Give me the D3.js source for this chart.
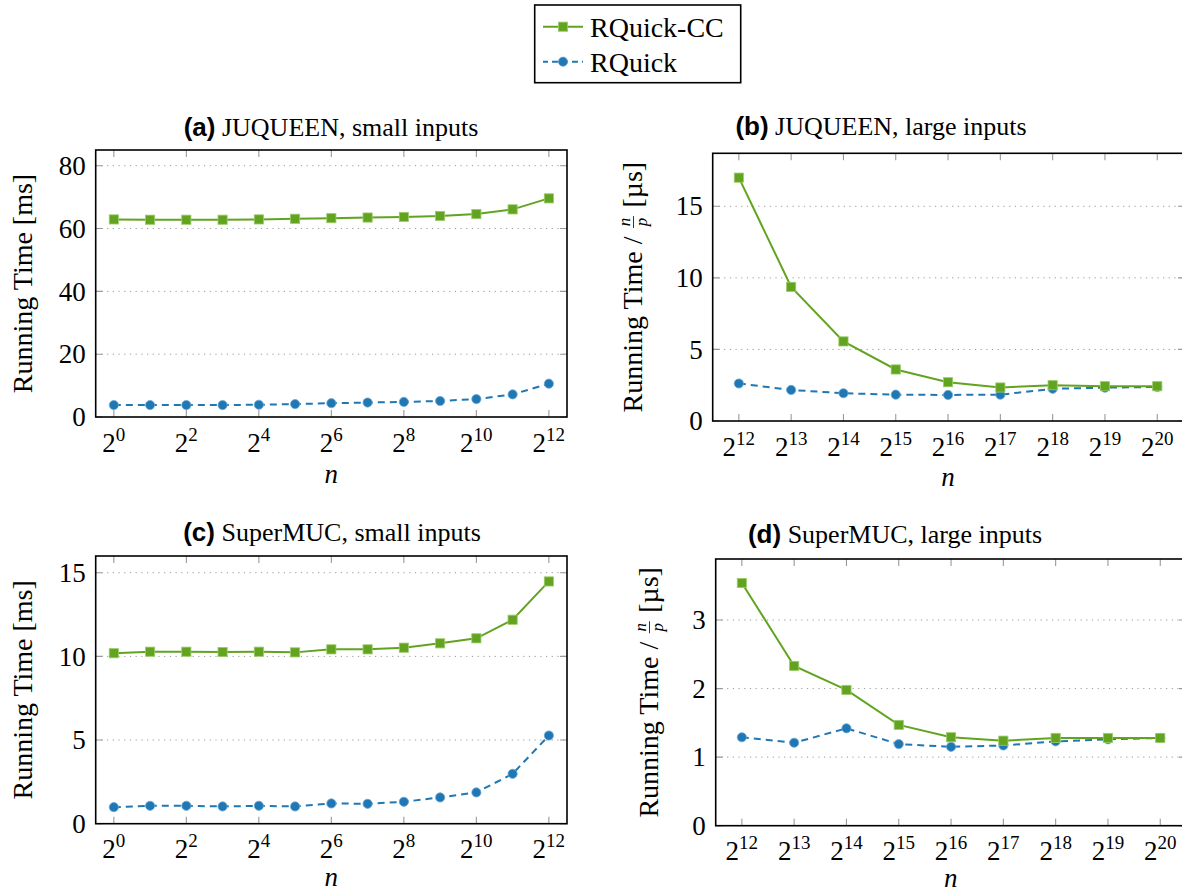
<!DOCTYPE html>
<html>
<head>
<meta charset="utf-8">
<script src="https://cdn.jsdelivr.net/npm/d3@7"></script>
<style>
  body { margin: 0; background: #fff; }
  svg text { font-family: "Liberation Serif", "Times New Roman", serif; fill: #000; white-space: pre; }
</style>
</head>
<body>
<div class="vis-holder"></div>
<script>
const width = 1182;
const height = 894;
const serif = "Liberation Serif, Times New Roman, serif";

// data
const seriesNames = ["RQuick-CC", "RQuick"];
const exponentsSmall = [0, 1, 2, 3, 4, 5, 6, 7, 8, 9, 10, 11, 12];
const exponentsLarge = [12, 13, 14, 15, 16, 17, 18, 19, 20];
const tickExpsSmall = [0, 2, 4, 6, 8, 10, 12];

const juqueenSmallCC = [62.9, 62.8, 62.8, 62.8, 62.9, 63.1, 63.3, 63.5, 63.7, 64.0, 64.6, 66.1, 69.6];
const juqueenSmallRQ = [3.8, 3.8, 3.8, 3.8, 3.9, 4.1, 4.4, 4.6, 4.8, 5.1, 5.7, 7.2, 10.6];
const juqueenLargeCC = [17.0, 9.37, 5.56, 3.60, 2.71, 2.34, 2.50, 2.43, 2.43];
const juqueenLargeRQ = [2.62, 2.17, 1.94, 1.84, 1.82, 1.84, 2.25, 2.33, 2.38];
const supermucSmallCC = [10.19, 10.28, 10.28, 10.26, 10.28, 10.24, 10.42, 10.42, 10.52, 10.78, 11.08, 12.19, 14.48];
const supermucSmallRQ = [0.99, 1.07, 1.07, 1.03, 1.07, 1.03, 1.21, 1.19, 1.31, 1.57, 1.87, 2.98, 5.27];
const supermucLargeCC = [3.54, 2.33, 1.98, 1.47, 1.29, 1.24, 1.28, 1.28, 1.28];
const supermucLargeRQ = [1.29, 1.21, 1.42, 1.19, 1.15, 1.17, 1.23, 1.26, 1.28];

const yTicksA = [0, 20, 40, 60, 80];
const yTicksB = [0, 5, 10, 15];
const yTicksC = [0, 5, 10, 15];
const yTicksD = [0, 1, 2, 3];

const green = "#62a420";
const blue = "#1f77b4";

const svg = d3.select(".vis-holder").append("svg")
    .attr("width", width)
    .attr("height", height)
    .attr("font-family", serif);

const panels = [
    { tag: "(a)", title: "JUQUEEN, small inputs", xs: exponentsSmall, xt: tickExpsSmall,
      cc: juqueenSmallCC, rq: juqueenSmallRQ, yt: yTicksA, ymax: 85,
      left: 95.7, right: 567, top: 150, bottom: 417, titleX: 331, titleY: 136, ylabX: 32, frac: false, nOff: 66 },
    { tag: "(b)", title: "JUQUEEN, large inputs", xs: exponentsLarge, xt: exponentsLarge,
      cc: juqueenLargeCC, rq: juqueenLargeRQ, yt: yTicksB, ymax: 18.7,
      left: 712.7, right: 1185, top: 153.3, bottom: 421, titleX: 881, titleY: 135, ylabX: 642, frac: true, nOff: 65 },
    { tag: "(c)", title: "SuperMUC, small inputs", xs: exponentsSmall, xt: tickExpsSmall,
      cc: supermucSmallCC, rq: supermucSmallRQ, yt: yTicksC, ymax: 16,
      left: 95.7, right: 567, top: 556, bottom: 823.7, titleX: 332, titleY: 541, ylabX: 32, frac: false, nOff: 62 },
    { tag: "(d)", title: "SuperMUC, large inputs", xs: exponentsLarge, xt: exponentsLarge,
      cc: supermucLargeCC, rq: supermucLargeRQ, yt: yTicksD, ymax: 3.89,
      left: 715.7, right: 1186, top: 559, bottom: 825.7, titleX: 895, titleY: 543, ylabX: 658, frac: true, nOff: 61 }
];

function drawSquares(g, pts, color) {
    g.selectAll(null).data(pts).enter().append("rect")
        .attr("x", d => d[0] - 4.6)
        .attr("y", d => d[1] - 4.6)
        .attr("width", 9.2)
        .attr("height", 9.2)
        .attr("fill", color)
        .attr("stroke", "#9ccc6c")
        .attr("stroke-width", 0.8);
}

function drawCircles(g, pts, color) {
    g.selectAll(null).data(pts).enter().append("circle")
        .attr("cx", d => d[0])
        .attr("cy", d => d[1])
        .attr("r", 4.6)
        .attr("fill", color)
        .attr("stroke", "#6fa8d6")
        .attr("stroke-width", 0.8);
}

function drawYLabel(g, p) {
    const cy = (p.top + p.bottom) / 2;
    const lab = g.append("g").attr("transform", `translate(${p.ylabX},${cy}) rotate(-90)`);
    if (!p.frac) {
        lab.append("text").attr("font-family", serif).attr("text-anchor", "middle").attr("font-size", 28)
            .text("Running Time [ms]");
        return;
    }
    const t1 = lab.append("text").attr("font-family", serif).attr("font-size", 28)
        .text("Running Time /\u00a0");
    const w1 = t1.node().getComputedTextLength();
    const num = lab.append("text").attr("font-family", serif).attr("font-size", 17)
        .attr("font-style", "italic").attr("text-anchor", "middle").text("n");
    const den = lab.append("text").attr("font-family", serif).attr("font-size", 17)
        .attr("font-style", "italic").attr("text-anchor", "middle").text("p");
    const fw = 15;
    const t2 = lab.append("text").attr("font-family", serif).attr("font-size", 28)
        .text("\u00a0[µs]");
    const w2 = t2.node().getComputedTextLength();
    const total = w1 + fw + w2;
    const x0 = -total / 2;
    t1.attr("x", x0);
    num.attr("x", x0 + w1 + fw / 2).attr("y", -12);
    den.attr("x", x0 + w1 + fw / 2).attr("y", 5);
    lab.append("line")
        .attr("x1", x0 + w1 + 1.5).attr("x2", x0 + w1 + fw - 1.5)
        .attr("y1", -8.5).attr("y2", -8.5)
        .attr("stroke", "#000").attr("stroke-width", 0.8);
    t2.attr("x", x0 + w1 + fw);
}

panels.forEach(function(p) {
    const g = svg.append("g");
    // fixed step per exponent, as in the reference; the frame of the right panels runs off the page
    const step = (p.xs.length > 9) ? (p.right - p.left) / 13 : 52.3;
    const x = d3.scaleLinear()
        .domain([p.xs[0] - 0.5, p.xs[p.xs.length - 1] + 0.5])
        .range([p.left, p.left + step * (p.xs.length)]);
    const y = d3.scaleLinear().domain([0, p.ymax]).range([p.bottom, p.top]);

    // grid
    g.selectAll(null).data(p.yt.filter(v => v > 0)).enter().append("line")
        .attr("x1", p.left).attr("x2", p.right)
        .attr("y1", d => y(d)).attr("y2", d => y(d))
        .attr("stroke", "#999").attr("stroke-width", 1)
        .attr("stroke-dasharray", "1.2,4.5");

    // inner ticks (gray)
    const tickLen = 7;
    g.selectAll(null).data(p.xt).enter().append("path")
        .attr("d", d => `M${x(d)},${p.bottom}v${-tickLen}M${x(d)},${p.top}v${tickLen}`)
        .attr("stroke", "#999").attr("stroke-width", 1.1);
    g.selectAll(null).data(p.yt).enter().append("path")
        .attr("d", d => `M${p.left},${y(d)}h${tickLen}M${p.right},${y(d)}h${-tickLen}`)
        .attr("stroke", "#999").attr("stroke-width", 1.1);

    // frame
    g.append("rect")
        .attr("x", p.left).attr("y", p.top)
        .attr("width", p.right - p.left).attr("height", p.bottom - p.top)
        .attr("fill", "none").attr("stroke", "#000").attr("stroke-width", 1.6);

    // y tick labels
    g.selectAll(null).data(p.yt).enter().append("text")
        .attr("font-family", serif)
        .attr("x", p.left - 10)
        .attr("y", d => y(d))
        .attr("dy", "0.34em")
        .attr("text-anchor", "end")
        .attr("font-size", 27)
        .text(d => d);

    // x tick labels 2^k
    const xl = g.selectAll(null).data(p.xt).enter().append("text")
        .attr("font-family", serif)
        .attr("x", d => x(d))
        .attr("y", p.bottom + 34.5)
        .attr("text-anchor", "middle")
        .attr("font-size", 27);
    xl.append("tspan").text("2");
    xl.append("tspan").attr("dy", -11).attr("font-size", 19).text(d => d);

    g.append("text")
        .attr("font-family", serif)
        .attr("x", (p.left + Math.min(p.right, x.range()[1])) / 2)
        .attr("y", p.bottom + p.nOff)
        .attr("text-anchor", "middle")
        .attr("font-size", 27)
        .attr("font-style", "italic")
        .text("n");

    // title
    const tt = g.append("text")
        .attr("font-family", serif)
        .attr("x", p.titleX).attr("y", p.titleY)
        .attr("text-anchor", "middle").attr("font-size", 26);
    tt.append("tspan").attr("font-family", "Liberation Sans, Arial, sans-serif")
        .attr("font-weight", "bold").text(p.tag);
    tt.append("tspan").text("\u00a0" + p.title);

    drawYLabel(g, p);

    // series
    const ptsCC = p.xs.map((e, i) => [x(e), y(p.cc[i])]);
    const ptsRQ = p.xs.map((e, i) => [x(e), y(p.rq[i])]);
    const line = d3.line();
    g.append("path").attr("d", line(ptsRQ))
        .attr("fill", "none").attr("stroke", blue).attr("stroke-width", 2)
        .attr("stroke-dasharray", "7,5");
    drawCircles(g, ptsRQ, blue);
    g.append("path").attr("d", line(ptsCC))
        .attr("fill", "none").attr("stroke", green).attr("stroke-width", 2);
    drawSquares(g, ptsCC, green);
});

// legend
const leg = svg.append("g");
leg.append("rect")
    .attr("x", 534.7).attr("y", 5)
    .attr("width", 206).attr("height", 77.7)
    .attr("fill", "#fff").attr("stroke", "#000").attr("stroke-width", 1.6);
const legRows = [
    { name: seriesNames[0], color: green, dash: null, y: 26.7 },
    { name: seriesNames[1], color: blue, dash: "6,4", y: 61.7 }
];
legRows.forEach(function(r, i) {
    leg.append("line")
        .attr("x1", 543).attr("x2", 583)
        .attr("y1", r.y).attr("y2", r.y)
        .attr("stroke", r.color).attr("stroke-width", 2)
        .attr("stroke-dasharray", r.dash)
        .attr("stroke-dashoffset", r.dash ? 1 : null);
    if (i === 0) drawSquares(leg, [[563, r.y]], r.color);
    else drawCircles(leg, [[563, r.y]], r.color);
    leg.append("text")
        .attr("font-family", serif)
        .attr("x", 590).attr("y", r.y).attr("dy", "0.35em")
        .attr("font-size", 28)
        .text(r.name);
});
</script>
</body>
</html>
